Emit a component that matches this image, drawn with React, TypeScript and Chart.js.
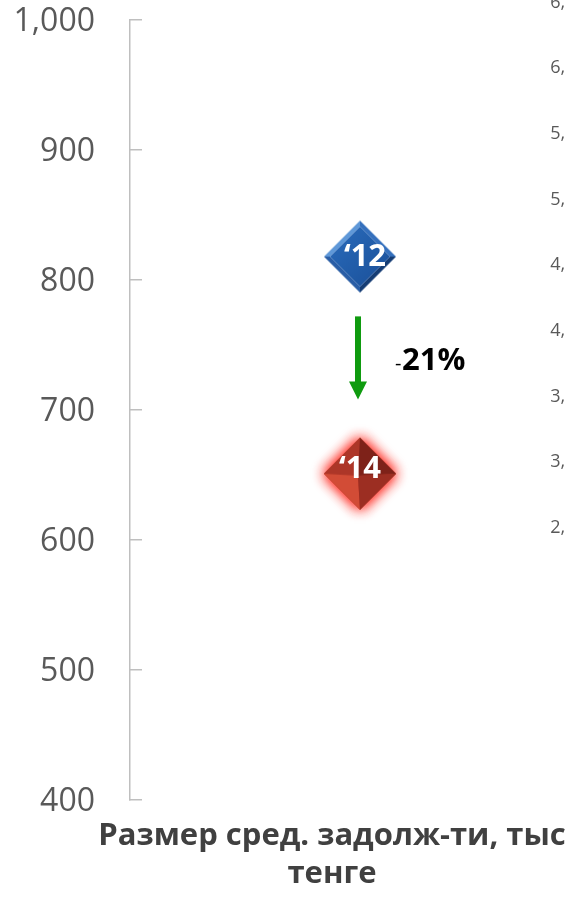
import React, { useEffect, useRef } from 'react';
import { Chart, registerables } from 'chart.js';

Chart.register(...registerables);

// ---- data ----
const metricName = 'Размер сред. задолж-ти, тыс тенге';
const titleLines = ['Размер сред. задолж-ти, тыс', 'тенге'];
const years = ['‘12', '‘14'];
const values = [818, 651];
const yMin = 400;
const yMax = 1000;
const yStep = 100;
const changeSign = '-';
const changeValue = '21%';
const arrowFromTo = [772, 708];
// clipped value axis of the neighbouring chart (right edge)
const secondaryTicks = [2500, 3000, 3500, 4000, 4500, 5000, 5500, 6000, 6500];
const secondaryRange = [430, 6367];

// ---- styles ----
const labelDx = [5, 0];
const labelDy = [1, -5];
const FONT = '"Open Sans", "DejaVu Sans", sans-serif';

type Pt = [number, number];

function makeDiamond(kind: 'blue' | 'red'): HTMLCanvasElement {
  const size = 100;
  const c = document.createElement('canvas');
  c.width = size;
  c.height = size;
  const g = c.getContext('2d')!;
  const cx = 50, cy = 50, r = 36;
  const T: Pt = [cx, cy - r], R: Pt = [cx + r, cy], B: Pt = [cx, cy + r], L: Pt = [cx - r, cy];
  const poly = (pts: Pt[], fill: string | CanvasGradient) => {
    g.beginPath();
    g.moveTo(pts[0][0], pts[0][1]);
    for (let i = 1; i < pts.length; i++) g.lineTo(pts[i][0], pts[i][1]);
    g.closePath();
    g.fillStyle = fill;
    g.fill();
  };
  if (kind === 'red') {
    g.save();
    g.shadowColor = 'rgba(255,40,30,0.95)';
    g.shadowBlur = 14;
    poly([T, R, B, L], '#b03528');
    poly([T, R, B, L], '#b03528');
    g.restore();
    const C: Pt = [cx - 2, cy + 2];
    poly([T, C, L], '#ad3628');
    poly([T, R, C], '#7e2219');
    poly([L, C, B], '#d24c36');
    poly([C, R, B], '#9c2e22');
  } else {
    const ri = r - 6;
    const Ti: Pt = [cx, cy - ri], Ri: Pt = [cx + ri, cy], Bi: Pt = [cx, cy + ri], Li: Pt = [cx - ri, cy];
    poly([T, R, Ri, Ti], '#3570bd');
    poly([L, T, Ti, Li], '#5f98d8');
    poly([B, L, Li, Bi], '#2a5ea6');
    poly([R, B, Bi, Ri], '#143c74');
    const grad = g.createLinearGradient(cx - ri, cy - ri, cx + ri, cy + ri);
    grad.addColorStop(0, '#2a6cbc');
    grad.addColorStop(1, '#1a4f98');
    poly([Ti, Ri, Bi, Li], grad);
  }
  return c;
}

const overlayPlugin = {
  id: 'overlay',
  afterDatasetsDraw(chart: any) {
    const ctx = chart.ctx as CanvasRenderingContext2D;
    const ys = chart.scales.y;
    const pts = chart.data.datasets.map((_d: any, i: number) => chart.getDatasetMeta(i).data[0]);
    ctx.save();
    // year labels inside the diamonds
    ctx.font = `bold 31px ${FONT}`;
    ctx.fillStyle = '#ffffff';
    ctx.textAlign = 'center';
    ctx.textBaseline = 'middle';
    pts.forEach((p: any, i: number) => {
      ctx.fillText(years[i], p.x + labelDx[i], p.y + labelDy[i]);
    });
    // arrow
    const ax = pts[0].x - 2;
    const y0 = ys.getPixelForValue(arrowFromTo[0]);
    const y1 = ys.getPixelForValue(arrowFromTo[1]);
    const head = 18;
    ctx.fillStyle = '#0f9b0f';
    ctx.fillRect(ax - 3, y0, 6, y1 - y0 - head + 1);
    ctx.beginPath();
    ctx.moveTo(ax - 9, y1 - head);
    ctx.lineTo(ax + 9, y1 - head);
    ctx.lineTo(ax, y1);
    ctx.closePath();
    ctx.fill();
    // change label
    const ly = (y0 + y1) / 2 + 12.5;
    ctx.textAlign = 'left';
    ctx.textBaseline = 'alphabetic';
    ctx.fillStyle = '#000000';
    ctx.font = `20px ${FONT}`;
    ctx.fillText(changeSign, ax + 37, ly);
    ctx.font = `bold 31px ${FONT}`;
    ctx.fillText(changeValue, ax + 44, ly);
    ctx.restore();
  },
};

const fmt = (v: number) => Number(v).toLocaleString('en-US');

export default function App() {
  const ref = useRef<HTMLCanvasElement | null>(null);
  useEffect(() => {
    if (!ref.current) return;
    const styles = [makeDiamond('blue'), makeDiamond('red')];
    const chart = new Chart(ref.current, {
      type: 'line',
      data: {
        labels: [metricName],
        datasets: years.map((yr, i) => ({
          label: yr,
          data: [values[i]],
          showLine: false,
          pointStyle: styles[i] as any,
          pointRadius: 36,
          pointHoverRadius: 36,
          clip: false as any,
        })),
      },
      options: {
        responsive: false,
        animation: false,
        events: [],
        layout: { autoPadding: false, padding: { top: 0, left: 0, right: 0, bottom: 0 } },
        plugins: {
          legend: { display: false },
          tooltip: { enabled: false },
          title: {
            display: true,
            position: 'bottom',
            text: titleLines,
            color: '#404040',
            font: { family: FONT, size: 31, weight: 'bold', lineHeight: 1.226 },
            padding: { top: 17, bottom: 4 },
          },
        },
        scales: {
          x: { type: 'category', display: false, offset: true },
          y: {
            position: 'left',
            min: yMin,
            max: yMax,
            afterFit: (s: any) => {
              s.width = 130;
              s.paddingTop = 20;
              s.paddingBottom = 20;
            },
            ticks: {
              stepSize: yStep,
              padding: 47,
              color: '#595959',
              labelOffset: 2,
              font: { family: FONT, size: 32 },
              callback: (v: any) => fmt(v),
            },
            grid: {
              drawOnChartArea: false,
              drawTicks: true,
              tickLength: -12,
              color: '#bfbfbf',
              lineWidth: 1.5,
            },
            border: { display: true, color: '#bfbfbf', width: 1.5 },
          },
          y2: {
            position: 'right',
            min: secondaryRange[0],
            max: secondaryRange[1],
            afterFit: (s: any) => {
              s.width = 74;
              s.paddingTop = 0;
              s.paddingBottom = 0;
            },
            afterBuildTicks: (s: any) => { s.ticks = secondaryTicks.map((v) => ({ value: v })); },
            ticks: {
              mirror: true,
              padding: 6,
              autoSkip: false,
              color: '#595959',
              font: { family: FONT, size: 18 },
              callback: (v: any) => fmt(v),
            },
            grid: { display: false, drawTicks: false },
            border: { display: false },
          },
        },
      },
      plugins: [overlayPlugin],
    });
    return () => chart.destroy();
  }, []);
  return (
    <div style={{ position: 'absolute', left: 0, top: 0, width: 565, height: 897, overflow: 'hidden', background: '#ffffff' }}>
      <canvas ref={ref} width={664} height={897} style={{ display: 'block', width: 664, height: 897 }} />
    </div>
  );
}
